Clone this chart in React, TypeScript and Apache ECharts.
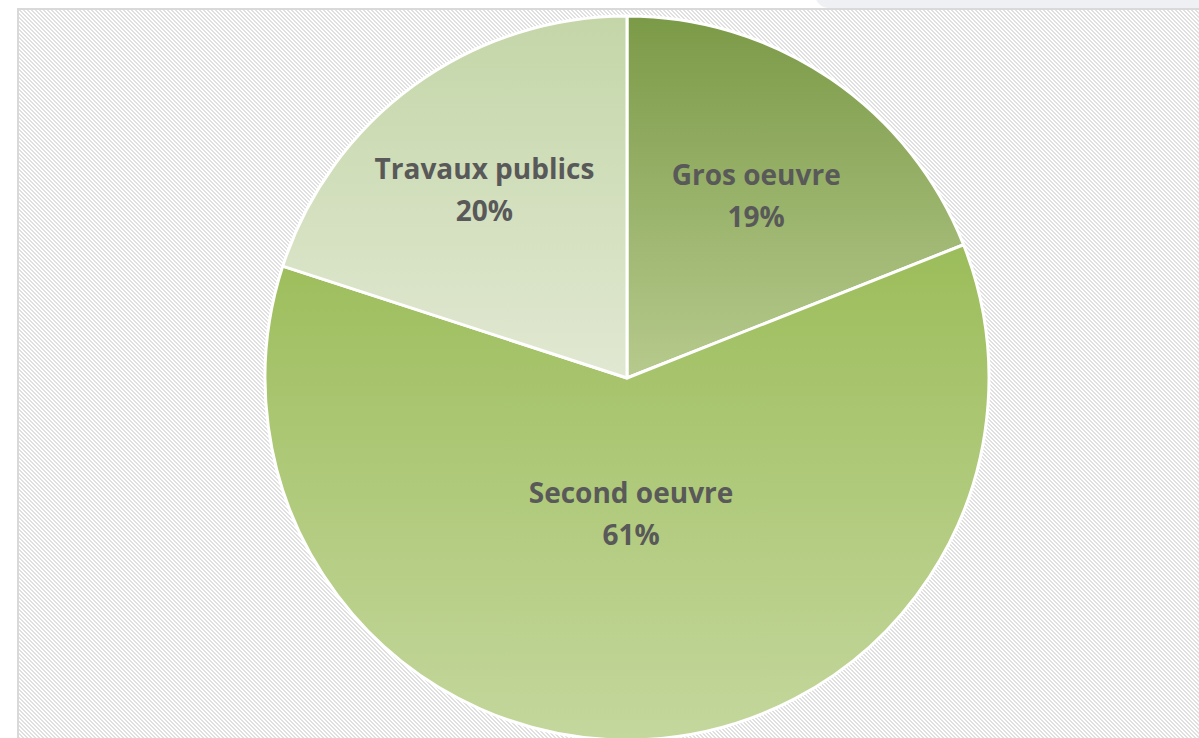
import React, { useEffect, useRef } from "react";
import * as echarts from "echarts";

// Répartition par corps de métier
const categories: string[] = ["Gros oeuvre", "Second oeuvre", "Travaux publics"];
const shares: number[] = [19, 61, 20];

// Slice gradients (top colour, bottom colour)
const sliceTop: string[] = ["#7b9a47", "#9cbd5a", "#c4d6a8"];
const sliceBottom: string[] = ["#b6ca8d", "#c4d79d", "#e1e8d2"];
// Radial position of each label, as a fraction of the radius
const labelRadius: number[] = [0.635, 0.355, 0.67];
const LABEL_DROP = 7;

const CX = 627;
const CY = 378;
const R = 362;

// 4x4 diagonal hatch tile for the plot background
const hatchTile = (() => {
  let rects = "";
  for (let y = 0; y < 4; y++) {
    for (let x = 0; x < 4; x++) {
      const d = (((x - y) % 4) + 4) % 4;
      if (d === 0 || d === 1) rects += `<rect x='${x}' y='${y}' width='1' height='1'/>`;
    }
  }
  const svg = `<svg xmlns='http://www.w3.org/2000/svg' width='4' height='4' shape-rendering='crispEdges'><rect width='4' height='4' fill='#ffffff'/><g fill='#e0e0e0'>${rects}</g></svg>`;
  return `url("data:image/svg+xml;utf8,${encodeURIComponent(svg)}")`;
})();

export default function App() {
  const ref = useRef<HTMLDivElement>(null);

  useEffect(() => {
    if (!ref.current) return;
    const chart = echarts.init(ref.current, undefined, { renderer: "svg" });
    const total = shares.reduce((a, b) => a + b, 0);
    const mids: number[] = [];
    let acc = 0;
    shares.forEach((v) => {
      mids.push(((acc + v / 2) / total) * Math.PI * 2);
      acc += v;
    });

    chart.setOption({
      animation: false,
      backgroundColor: "transparent",
      series: [
        {
          type: "pie",
          center: [CX, CY],
          radius: [0, R],
          startAngle: 90,
          clockwise: true,
          avoidLabelOverlap: false,
          itemStyle: { borderColor: "#ffffff", borderWidth: 3 },
          label: {
            show: true,
            position: "inside",
            formatter: "{b}\n{d}%",
            fontFamily: "'Open Sans', 'Liberation Sans', sans-serif",
            fontWeight: "bold",
            fontSize: 28,
            lineHeight: 42,
            color: "#595959",
            align: "center",
          },
          labelLine: { show: false },
          labelLayout: (params: any) => {
            const i = params.dataIndex;
            const a = mids[i];
            const k = labelRadius[i] * R;
            return {
              x: CX + Math.sin(a) * k,
              y: CY - Math.cos(a) * k + LABEL_DROP,
              align: "center",
              verticalAlign: "middle",
            };
          },
          emphasis: { disabled: true },
          data: categories.map((name, i) => ({
            name,
            value: shares[i],
            itemStyle: {
              color: new echarts.graphic.LinearGradient(0, 0, 0, 1, [
                { offset: 0, color: sliceTop[i] },
                { offset: 1, color: sliceBottom[i] },
              ]),
            },
          })),
        },
      ],
    });
    return () => chart.dispose();
  }, []);

  return (
    <div
      style={{
        position: "fixed",
        left: 0,
        top: 0,
        width: 1199,
        height: 738,
        background: "#ffffff",
        overflow: "hidden",
      }}
    >
      <div
        style={{
          position: "absolute",
          left: 815,
          top: -10,
          width: 420,
          height: 18,
          background: "#eff0f4",
          borderRadius: "0 0 0 14px",
        }}
      />
      <div
        style={{
          position: "absolute",
          left: 17,
          top: 8,
          width: 1199,
          height: 760,
          borderLeft: "2px solid #d9d9d9",
          borderTop: "2px solid #d9d9d9",
          backgroundImage: hatchTile,
          backgroundRepeat: "repeat",
          backgroundSize: "4px 4px",
        }}
      />
      <div
        ref={ref}
        style={{ position: "absolute", left: 0, top: 0, width: 1199, height: 738 }}
      />
    </div>
  );
}
